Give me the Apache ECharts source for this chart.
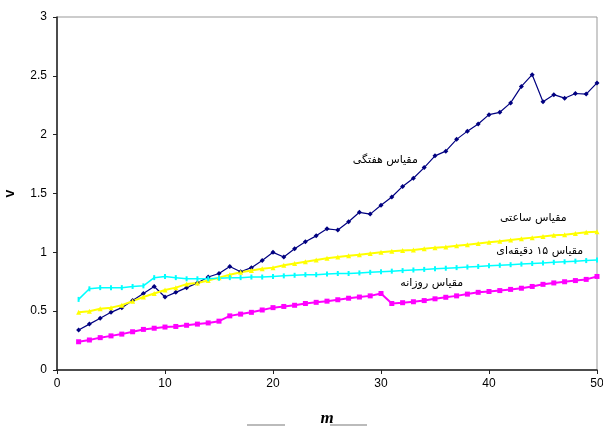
<!DOCTYPE html>
<html>
<head>
<meta charset="utf-8">
<script src="https://cdn.jsdelivr.net/npm/echarts@6/dist/echarts.min.js"></script>
<style>html,body{margin:0;padding:0;background:#fff}#c{width:603px;height:427px}</style>
</head>
<body>
<div id="c"></div>
<script>
const xValues = [2,3,4,5,6,7,8,9,10,11,12,13,14,15,16,17,18,19,20,21,22,23,24,25,26,27,28,29,30,31,32,33,34,35,36,37,38,39,40,41,42,43,44,45,46,47,48,49,50];
const weekly = [0.34,0.39,0.44,0.49,0.53,0.59,0.65,0.71,0.62,0.66,0.70,0.74,0.79,0.82,0.88,0.835,0.87,0.93,1.0,0.96,1.03,1.09,1.14,1.20,1.19,1.26,1.34,1.325,1.40,1.47,1.56,1.63,1.72,1.82,1.86,1.96,2.03,2.09,2.17,2.19,2.27,2.41,2.51,2.28,2.34,2.31,2.35,2.345,2.44];
const hourly = [0.49,0.50,0.52,0.53,0.55,0.585,0.62,0.65,0.68,0.70,0.73,0.74,0.76,0.785,0.81,0.83,0.845,0.86,0.87,0.89,0.905,0.92,0.935,0.95,0.96,0.97,0.98,0.99,1.0,1.01,1.015,1.02,1.03,1.04,1.045,1.055,1.065,1.075,1.085,1.095,1.105,1.115,1.125,1.135,1.145,1.15,1.16,1.17,1.175];
const min15 = [0.60,0.69,0.70,0.70,0.70,0.71,0.715,0.785,0.795,0.785,0.775,0.775,0.775,0.78,0.785,0.785,0.79,0.79,0.795,0.80,0.805,0.81,0.81,0.815,0.82,0.82,0.825,0.83,0.835,0.84,0.845,0.85,0.855,0.86,0.865,0.87,0.875,0.88,0.885,0.89,0.895,0.90,0.905,0.91,0.915,0.92,0.925,0.93,0.935];
const daily = [0.24,0.255,0.275,0.29,0.305,0.325,0.345,0.355,0.365,0.37,0.38,0.39,0.40,0.415,0.46,0.475,0.49,0.51,0.53,0.54,0.55,0.565,0.575,0.585,0.597,0.61,0.62,0.63,0.65,0.565,0.572,0.58,0.59,0.605,0.618,0.63,0.645,0.66,0.667,0.675,0.685,0.695,0.71,0.728,0.74,0.75,0.76,0.77,0.795];
const seriesNames = ['مقیاس هفتگی','مقیاس ساعتی','مقیاس ۱۵ دقیقه‌ای','مقیاس روزانه'];
const xTicks = [0,10,20,30,40,50];
const yTicks = [0,0.5,1,1.5,2,2.5,3];

const pair = arr => xValues.map((x,i)=>[x,arr[i]]);
const chart = echarts.init(document.getElementById('c'), null, {renderer:'canvas'});
const lbl = (name, coord) => ({
  silent:true, symbol:'circle', symbolSize:1, animation:false,
  itemStyle:{color:'rgba(0,0,0,0)'},
  label:{show:true, position:'inside', formatter:name, color:'#000', fontSize:11, fontFamily:'DejaVu Sans'},
  data:[{coord:coord, value:1}]
});
chart.setOption({
  animation:false,
  backgroundColor:'#fff',
  grid:{left:57,right:6,top:17,bottom:57,show:true,borderColor:'#999',borderWidth:1,containLabel:false,outerBoundsMode:'none'},
  xAxis:{type:'value',min:0,max:50,interval:10,
    name:'m',nameLocation:'middle',nameGap:40,
    nameTextStyle:{fontSize:17,fontWeight:'bold',fontStyle:'italic',fontFamily:'Liberation Serif',color:'#000'},
    axisLine:{lineStyle:{color:'#222',width:1.5}},
    axisTick:{show:true,length:4,lineStyle:{color:'#222'}},
    axisLabel:{margin:8,fontSize:12,color:'#000',fontFamily:'Liberation Sans',formatter:v=>xTicks.includes(v)?String(v):''},
    splitLine:{show:false}},
  yAxis:{type:'value',min:0,max:3,interval:0.5,
    name:'v',nameLocation:'middle',nameGap:40,
    nameTextStyle:{fontSize:14,fontWeight:'bold',fontFamily:'Liberation Sans',color:'#000'},
    axisLine:{show:true,lineStyle:{color:'#222',width:1.5}},
    axisTick:{show:true,length:4,lineStyle:{color:'#222'}},
    axisLabel:{margin:10,fontSize:12,color:'#000',fontFamily:'Liberation Sans',formatter:v=>yTicks.includes(v)?String(v):''},
    splitLine:{show:false}},
  series:[
    {name:seriesNames[0],type:'line',data:pair(weekly),color:'#000080',
     lineStyle:{width:1.2},symbol:'diamond',symbolSize:5,itemStyle:{color:'#000080'},
     markPoint:lbl(seriesNames[0],[30.4,1.78])},
    {name:seriesNames[1],type:'line',data:pair(hourly),color:'#FFFF00',
     lineStyle:{width:2},symbol:'triangle',symbolSize:5,itemStyle:{color:'#FFFF00'},
     markPoint:lbl(seriesNames[1],[44.1,1.29])},
    {name:seriesNames[2],type:'line',data:pair(min15),color:'#00FFFF',
     lineStyle:{width:1.5},symbol:'rect',symbolSize:[2,5],itemStyle:{color:'#00FFFF'},
     markPoint:lbl(seriesNames[2],[44.7,1.01])},
    {name:seriesNames[3],type:'line',data:pair(daily),color:'#FF00FF',
     lineStyle:{width:2},symbol:'rect',symbolSize:5,itemStyle:{color:'#FF00FF'},
     markPoint:lbl(seriesNames[3],[34.7,0.74])}
  ],
  graphic:[
    {type:'rect',shape:{x:247,y:424,width:38,height:2},style:{fill:'#bbb'},silent:true},
    {type:'rect',shape:{x:330,y:424,width:37,height:2},style:{fill:'#bbb'},silent:true}
  ]
});
</script>
</body>
</html>
